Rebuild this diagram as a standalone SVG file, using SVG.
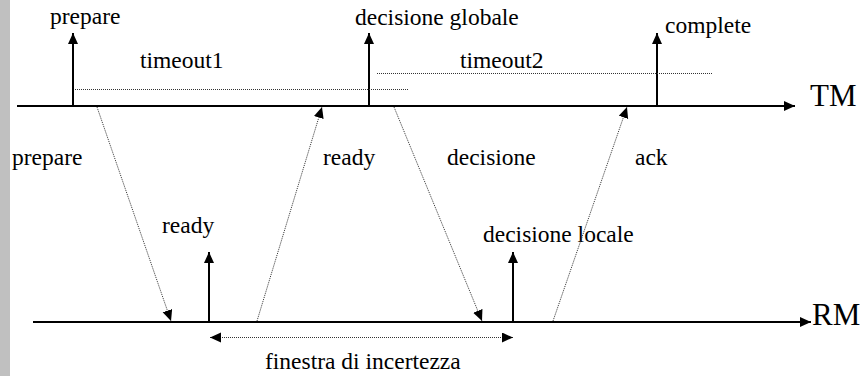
<svg xmlns="http://www.w3.org/2000/svg" width="865" height="376" viewBox="0 0 865 376">
<defs>
<style>
.t{font-family:'Liberation Serif','Times New Roman',serif !important;font-size:23.5px;fill:#000}
.big{font-size:31px}
.solid{stroke:#000;stroke-width:2;fill:none}
.dot{stroke:#333;stroke-width:1;stroke-dasharray:1 1;fill:none}
</style>
<marker id="ah" markerUnits="userSpaceOnUse" markerWidth="12" markerHeight="11" refX="11" refY="5" orient="auto">
<path d="M0,0 L11,5 L0,10 z" fill="#000"/>
</marker>
<marker id="ahs" markerUnits="userSpaceOnUse" markerWidth="12" markerHeight="11" refX="11" refY="5" orient="auto-start-reverse">
<path d="M0,0 L11,5 L0,10 z" fill="#000"/>
</marker>
</defs>
<rect width="865" height="376" fill="#fff"/>
<rect x="0" y="0" width="10" height="376" fill="#c0c0c0"/>

<g id="TM">
<line class="solid" x1="17" y1="106" x2="795" y2="106" marker-end="url(#ah)"/>
<text class="t big" style="font-family:'Liberation Serif',serif" x="810" y="106">TM</text>
</g>
<g id="RM">
<line class="solid" x1="33" y1="322" x2="811" y2="322" marker-end="url(#ah)"/>
<text class="t big" style="font-family:'Liberation Serif',serif" x="812" y="325">RM</text>
</g>

<g id="ev-prepare">
<line class="solid" x1="73" y1="106" x2="73" y2="33" marker-end="url(#ah)"/>
<text class="t" style="font-family:'Liberation Serif',serif" x="50" y="24">prepare</text>
</g>
<g id="ev-decisione-globale">
<line class="solid" x1="369" y1="106" x2="369" y2="33" marker-end="url(#ah)"/>
<text class="t" style="font-family:'Liberation Serif',serif" x="355" y="25">decisione globale</text>
</g>
<g id="ev-complete">
<line class="solid" x1="657" y1="106" x2="657" y2="33" marker-end="url(#ah)"/>
<text class="t" style="font-family:'Liberation Serif',serif" x="665" y="33">complete</text>
</g>
<g id="ev-ready">
<line class="solid" x1="209" y1="322" x2="209" y2="252" marker-end="url(#ah)"/>
<text class="t" style="font-family:'Liberation Serif',serif" x="162" y="233">ready</text>
</g>
<g id="ev-decisione-locale">
<line class="solid" x1="513" y1="322" x2="513" y2="252" marker-end="url(#ah)"/>
<text class="t" style="font-family:'Liberation Serif',serif" x="483" y="242">decisione locale</text>
</g>

<g id="timeouts">
<line class="dot" x1="75" y1="89.5" x2="409" y2="89.5"/>
<text class="t" style="font-family:'Liberation Serif',serif" x="140" y="68">timeout1</text>
<line class="dot" x1="377" y1="73.5" x2="713" y2="73.5"/>
<text class="t" style="font-family:'Liberation Serif',serif" x="460" y="68">timeout2</text>
</g>

<g id="connectors">
<line class="dot" x1="97" y1="107" x2="171" y2="321" marker-end="url(#ah)"/>
<line class="dot" x1="257" y1="321" x2="322" y2="107" marker-end="url(#ah)"/>
<line class="dot" x1="394" y1="107" x2="482" y2="321" marker-end="url(#ah)"/>
<line class="dot" x1="553" y1="321" x2="627" y2="107" marker-end="url(#ah)"/>
<line class="dot" x1="210" y1="337.5" x2="513" y2="337.5" marker-start="url(#ahs)" marker-end="url(#ah)"/>
</g>

<g id="labels">
<text class="t" style="font-family:'Liberation Serif',serif" x="12" y="165">prepare</text>
<text class="t" style="font-family:'Liberation Serif',serif" x="323" y="165">ready</text>
<text class="t" style="font-family:'Liberation Serif',serif" x="447" y="165">decisione</text>
<text class="t" style="font-family:'Liberation Serif',serif" x="635" y="165">ack</text>
<text class="t" style="font-family:'Liberation Serif',serif" x="265" y="369">finestra di incertezza</text>
</g>
</svg>
